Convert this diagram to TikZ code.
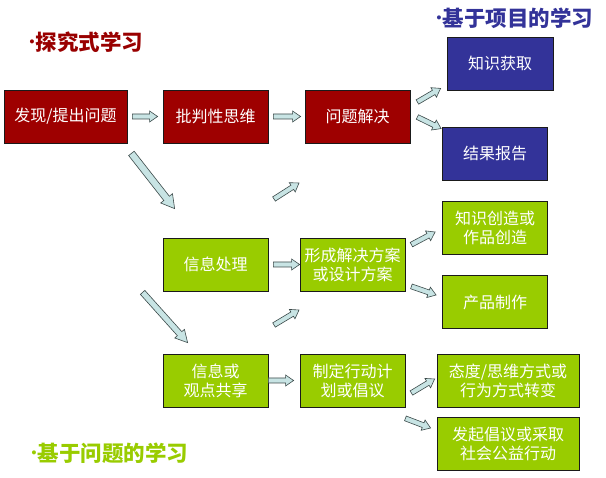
\documentclass[tikz,border=0pt]{standalone}
\usepackage{fontspec}
\setmainfont{Noto Sans CJK SC}
\newfontfamily\bulletfont{Liberation Sans}
\usetikzlibrary{calc}
\definecolor{BoxRed}{HTML}{9E0000}
\definecolor{BoxBlue}{HTML}{333399}
\definecolor{BoxGreen}{HTML}{99CC00}
\definecolor{Edge}{HTML}{1A1A1A}
\definecolor{ArrowFill}{HTML}{C8E4E4}
\definecolor{ArrowLine}{HTML}{3C4A4A}
\definecolor{TitleRed}{HTML}{990000}
\definecolor{TitleBlue}{HTML}{333399}
\definecolor{TitleGreen}{HTML}{99CC00}
\tikzset{
 box/.style={draw=Edge, line width=0.8pt, text=white, minimum width=105, minimum height=53, align=center, inner sep=0pt, font=\fontsize{16}{19}\selectfont},
 redbox/.style={box, fill=BoxRed},
 bluebox/.style={box, fill=BoxBlue},
 greenbox/.style={box, fill=BoxGreen},
 title/.style={anchor=west, font=\fontsize{21.5}{25}\selectfont\bfseries},
 fatarrow/.style={fill=ArrowFill, draw=ArrowLine, line width=0.6pt, line join=miter}
}
\newcommand{\dotmark}{\raisebox{4pt}{\bulletfont\fontsize{14}{14}\selectfont •}\kern1.5pt}
% hollow block arrow: [shaft/head/head length]{start}{end}
\newcommand{\blockarrow}[3][2.5/5.5/8]{%
  \path #2 coordinate (ba-s) #3 coordinate (ba-e);
  \foreach \sw/\hw/\hl in {#1}{%
    \path ($(ba-e)!\hl pt!(ba-s)$) coordinate (ba-m);
    \draw[fatarrow] ($(ba-s)!\sw pt!90:(ba-e)$) -- ($(ba-m)!\sw pt!90:(ba-e)$)
      -- ($(ba-m)!\hw pt!90:(ba-e)$) -- (ba-e) -- ($(ba-m)!\hw pt!-90:(ba-e)$)
      -- ($(ba-m)!\sw pt!-90:(ba-e)$) -- ($(ba-s)!\sw pt!-90:(ba-e)$) -- cycle;
  }%
}
\begin{document}
\begin{tikzpicture}[x=1pt,y=-1pt]
\useasboundingbox[fill=white] (0,0) rectangle (606,478);
% titles
\node[title, text=TitleRed] (t1) at (26,42) {\dotmark 探究式学习};
\node[title, text=TitleBlue] (t2) at (433,18) {\dotmark 基于项目的学习};
\node[title, text=TitleGreen] (t3) at (28,453) {\dotmark 基于问题的学习};
% first row
\node[redbox, minimum width=123] (find) at (65.5,116.5) {发现/提出问题};
\node[redbox] (crit) at (215.5,116.5) {批判性思维};
\node[redbox] (solve) at (357.5,116.5) {问题解决};
\node[bluebox, minimum width=106] (know) at (500,63.5) {知识获取};
\node[bluebox] (report) at (495,153.5) {结果报告};
% second row
\node[greenbox] (info) at (215.5,264.5) {信息处理};
\node[greenbox] (plan) at (352.5,264.5) {形成解决方案\\或设计方案};
\node[greenbox] (create) at (495,228) {知识创造或\\作品创造};
\node[greenbox] (product) at (495,302) {产品制作};
% third row
\node[greenbox] (share) at (215.5,380.5) {信息或\\观点共享};
\node[greenbox] (action) at (352.5,380.5) {制定行动计\\划或倡议};
\node[greenbox, minimum width=142] (attit) at (508,380.5) {态度/思维方式或\\行为方式转变};
\node[greenbox, minimum width=142] (launch) at (508,444) {发起倡议或采取\\社会公益行动};
% free ends
\coordinate (up1s) at (274,199);
\coordinate (up1e) at (299,183);
\coordinate (up2s) at (274,325);
\coordinate (up2e) at (299,310);
% connectors
\blockarrow{($(find.east)+(5,0)$)}{($(crit.west)+(-5,0)$)}
\blockarrow{($(crit.east)+(5,0)$)}{($(solve.west)+(-4,0)$)}
\blockarrow{($(solve.east)+(7,-14.5)$)}{($(know.south west)+(-6,-2)$)}
\blockarrow{($(solve.east)+(7,0.5)$)}{($(report.north west)+(-1,2)$)}
\blockarrow[3.5/7.5/13]{($(find.south east)+(4,10)$)}{($(info.north west)+(12,-29)$)}
\blockarrow{(up1s)}{(up1e)}
\blockarrow{($(info.east)+(5,0)$)}{(plan.west)}
\blockarrow{($(plan.north east)+(6,7)$)}{($(create.west)+(-7,4)$)}
\blockarrow{($(plan.south east)+(6,-5)$)}{($(product.west)+(-6,-7)$)}
\blockarrow{(up2s)}{(up2e)}
\blockarrow[3/6.5/12]{($(info.south west)+(-20,1)$)}{($(share.north west)+(25,-11)$)}
\blockarrow{(share.east)}{($(action.west)+(-6,0)$)}
\blockarrow{($(action.east)+(6,12.5)$)}{($(attit.west)+(-2,-1.5)$)}
\blockarrow{($(action.south east)+(0,11)$)}{($(launch.west)+(-6,-16)$)}
\end{tikzpicture}
\end{document}
